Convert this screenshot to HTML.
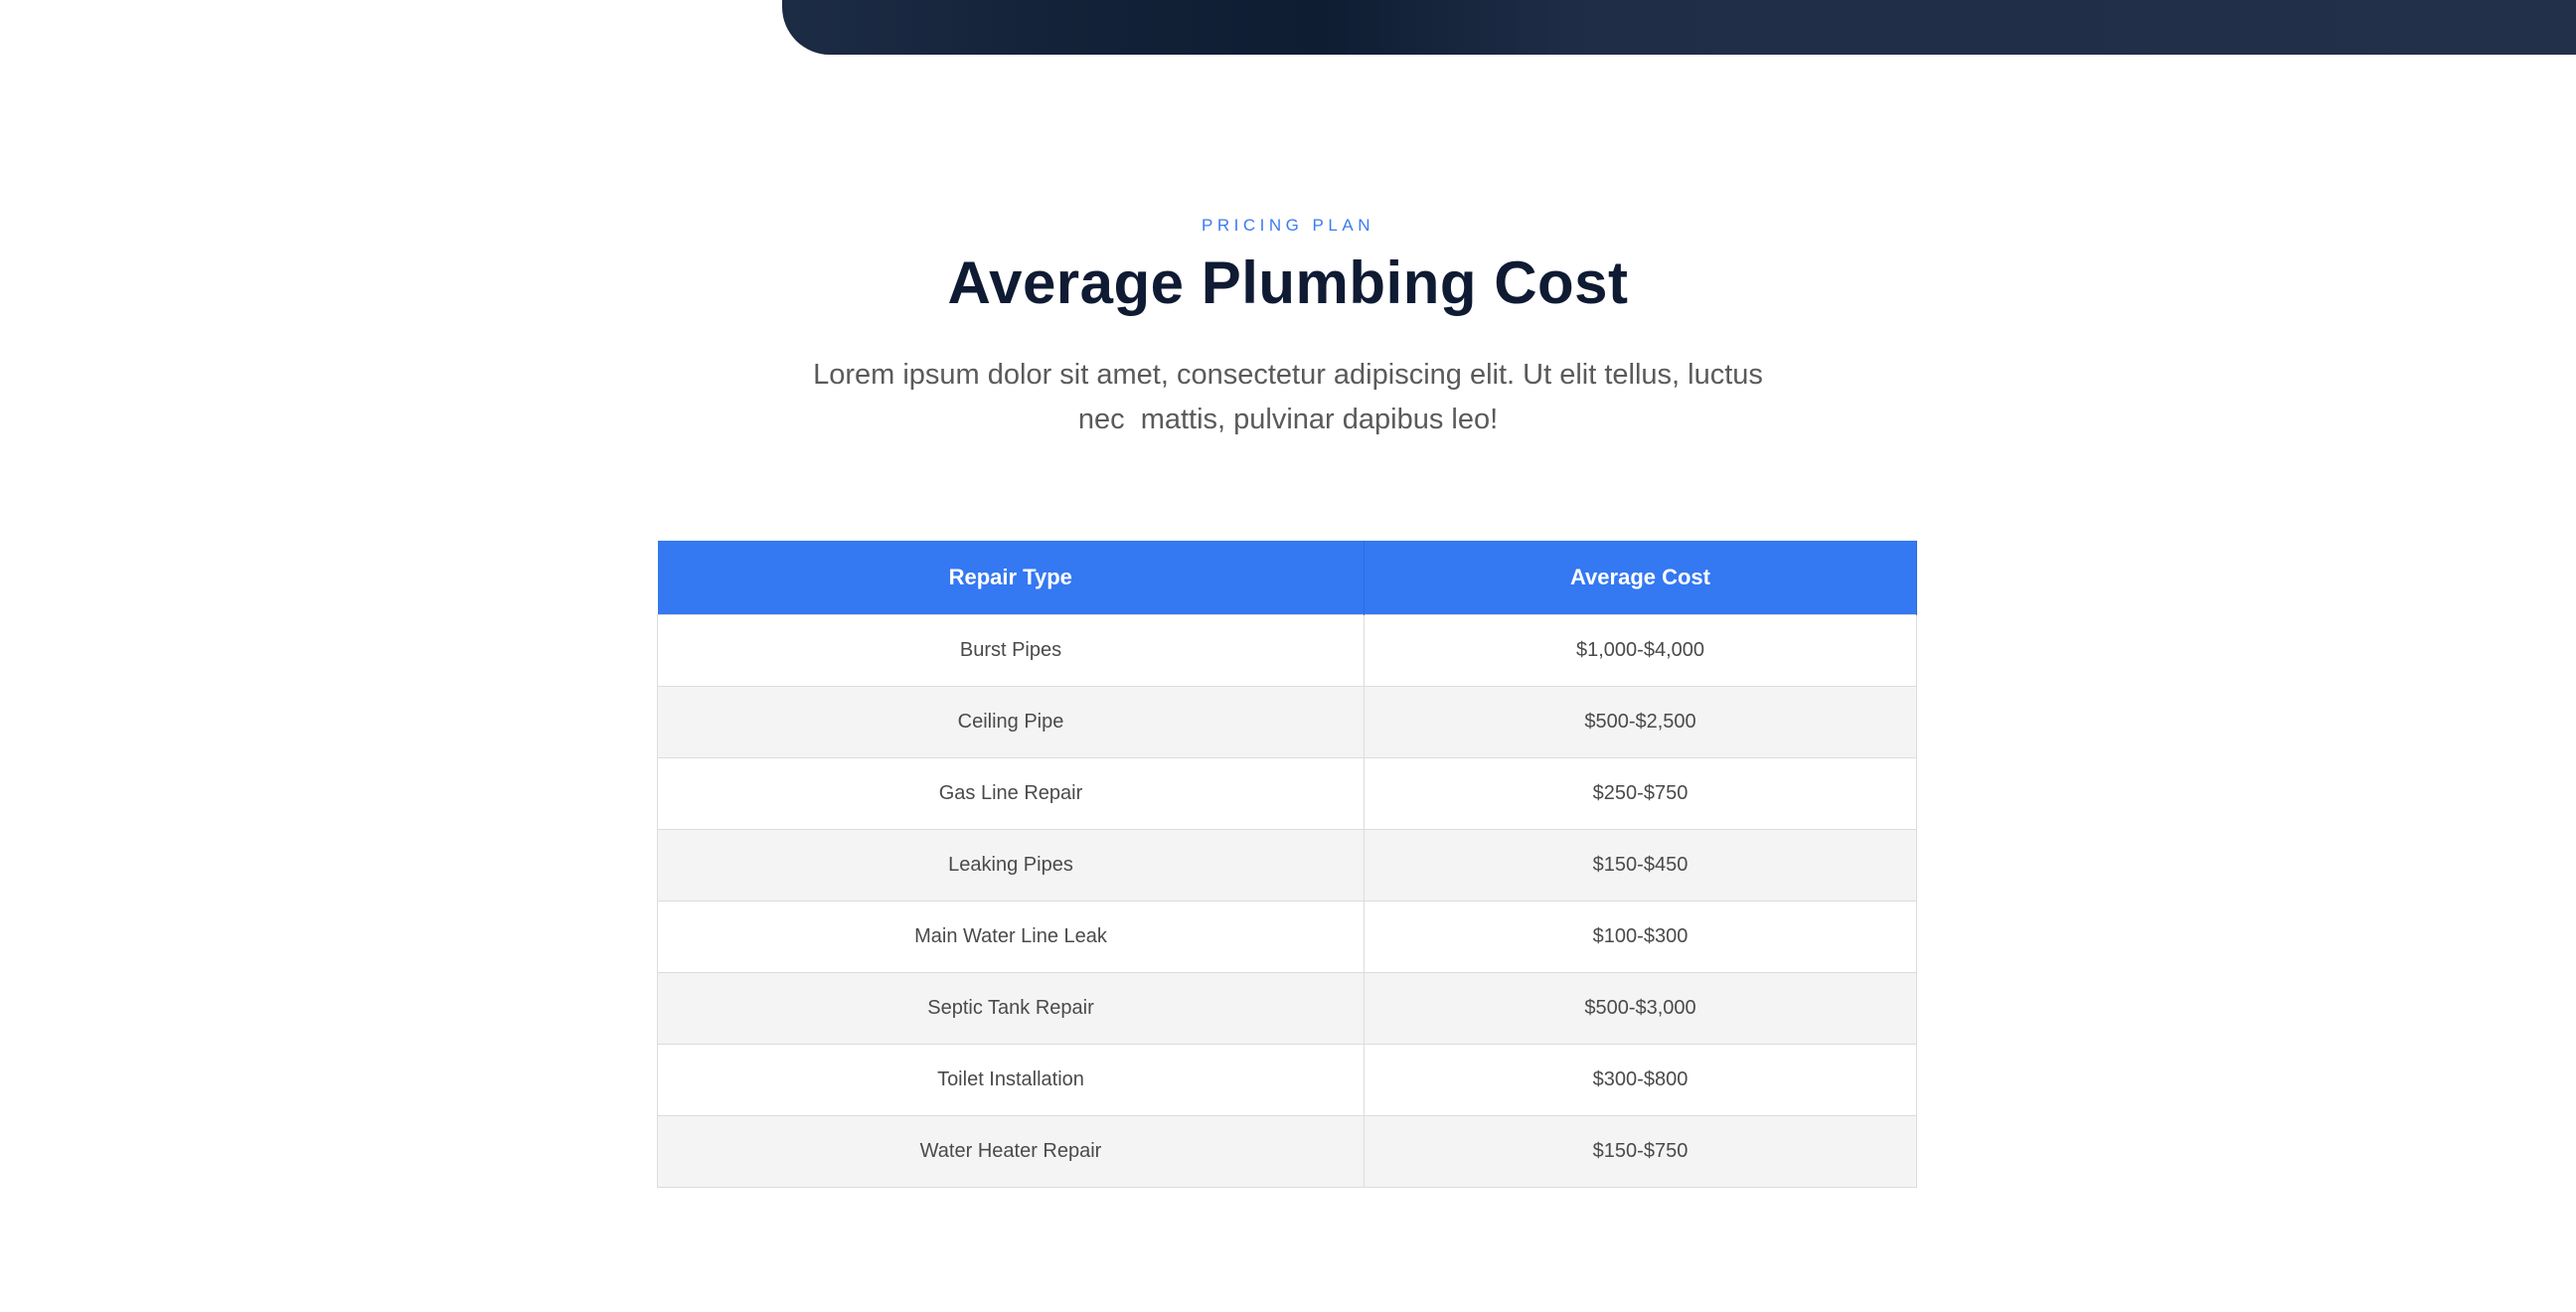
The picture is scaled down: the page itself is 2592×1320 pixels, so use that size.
<!DOCTYPE html>
<html><head><meta charset="utf-8"><style>
html,body{margin:0;padding:0;background:#fff;width:2592px;height:1320px;overflow:hidden;font-family:"Liberation Sans",sans-serif;position:relative}
.banner{position:absolute;left:787px;top:0;width:1805px;height:55px;background:linear-gradient(90deg,#1d2c45 0%,#142239 15%,#0f1d33 30%,#1f2d47 45%,#223049 100%);border-bottom-left-radius:48px}
.eyebrow{position:absolute;top:217px;left:0;width:2592px;text-align:center;font-size:17px;letter-spacing:4.5px;color:#3b7bf0}
h1{position:absolute;top:250px;left:0;width:2592px;margin:0;text-align:center;font-size:60px;font-weight:bold;color:#0f1b33;letter-spacing:0.5px}
p{position:absolute;top:355px;left:0;width:2592px;margin:0;text-align:center;font-size:29px;line-height:45px;color:#5a5a5a}
table{position:absolute;left:661px;top:544px;width:1268px;border-collapse:collapse}
th{background:#3478f2;color:#fff;font-size:22px;font-weight:bold;height:74px;padding:0;border-right:1px solid #2f6bd8}
td{height:71px;padding:0;text-align:center;font-size:20px;color:#4a4a4a;border:1px solid #dcdcdc}
tr:nth-child(even) td{background:#f4f4f4}
th:first-child,td:first-child{width:710px}
</style></head><body>
<div class="banner"></div>
<div class="eyebrow">PRICING PLAN</div>
<h1>Average Plumbing Cost</h1>
<p>Lorem ipsum dolor sit amet, consectetur adipiscing elit. Ut elit tellus, luctus<br>nec&nbsp; mattis, pulvinar dapibus leo!</p>
<table>
<thead><tr><th>Repair Type</th><th>Average Cost</th></tr></thead>
<tbody>
<tr><td>Burst Pipes</td><td>$1,000-$4,000</td></tr>
<tr><td>Ceiling Pipe</td><td>$500-$2,500</td></tr>
<tr><td>Gas Line Repair</td><td>$250-$750</td></tr>
<tr><td>Leaking Pipes</td><td>$150-$450</td></tr>
<tr><td>Main Water Line Leak</td><td>$100-$300</td></tr>
<tr><td>Septic Tank Repair</td><td>$500-$3,000</td></tr>
<tr><td>Toilet Installation</td><td>$300-$800</td></tr>
<tr><td>Water Heater Repair</td><td>$150-$750</td></tr>
</tbody></table>
</body></html>
